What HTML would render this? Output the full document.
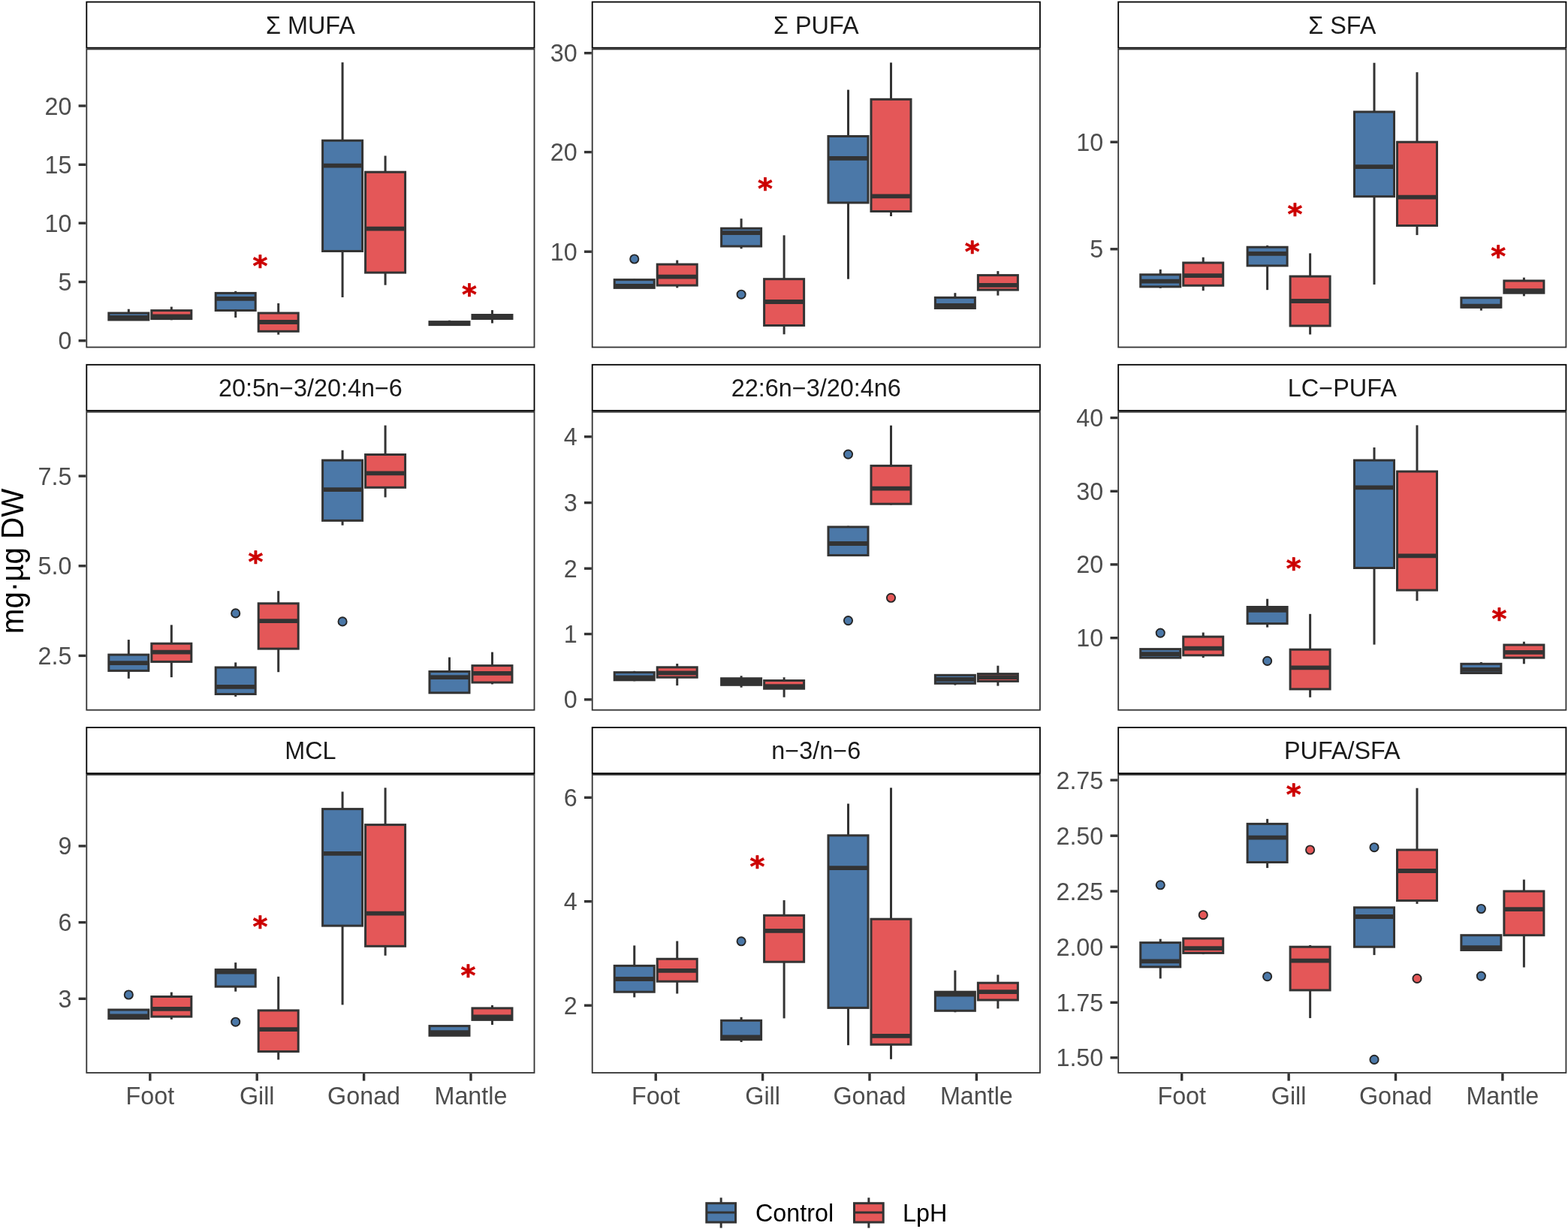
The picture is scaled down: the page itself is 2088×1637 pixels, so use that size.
<!DOCTYPE html>
<html><head><meta charset="utf-8"><title>Fatty acid boxplots</title>
<style>html,body{margin:0;padding:0;background:#fff;}svg{display:block;}
text{font-family:"Liberation Sans",Arial,sans-serif;}
.ax{font-size:32.3px;fill:#4D4D4D;}
.st{font-size:32.4px;fill:#1A1A1A;text-anchor:middle;}
.ast{font-family:"DejaVu Sans",sans-serif;font-weight:bold;font-size:38px;fill:#CC0000;stroke:#CC0000;stroke-width:0.7px;stroke-linejoin:round;text-anchor:middle;}
</style></head><body>
<svg width="2088" height="1637" viewBox="0 0 2088 1637">
<rect x="0" y="0" width="2088" height="1637" fill="#fff"/>
<g>
<rect x="115.3" y="2.6" width="596.2" height="61.1" fill="#fff" stroke="#000" stroke-width="1.8"/>
<text class="st" x="413.4" y="44.75">Σ MUFA</text>
<line x1="171.33" y1="411.7" x2="171.33" y2="417" stroke="#333333" stroke-width="3"/>
<rect x="144.83" y="417" width="53" height="9" fill="#4B78A8" stroke="#333333" stroke-width="3"/>
<line x1="144.83" y1="423" x2="197.83" y2="423" stroke="#333333" stroke-width="5.8"/>
<line x1="228.33" y1="408.6" x2="228.33" y2="413.6" stroke="#333333" stroke-width="3"/>
<line x1="228.33" y1="424.6" x2="228.33" y2="426.3" stroke="#333333" stroke-width="3"/>
<rect x="201.83" y="413.6" width="53" height="11" fill="#E45758" stroke="#333333" stroke-width="3"/>
<line x1="201.83" y1="421.5" x2="254.83" y2="421.5" stroke="#333333" stroke-width="5.8"/>
<line x1="313.71" y1="387.8" x2="313.71" y2="390.4" stroke="#333333" stroke-width="3"/>
<line x1="313.71" y1="413.5" x2="313.71" y2="423" stroke="#333333" stroke-width="3"/>
<rect x="287.21" y="390.4" width="53" height="23.1" fill="#4B78A8" stroke="#333333" stroke-width="3"/>
<line x1="287.21" y1="397.8" x2="340.21" y2="397.8" stroke="#333333" stroke-width="5.8"/>
<line x1="370.71" y1="404" x2="370.71" y2="417" stroke="#333333" stroke-width="3"/>
<line x1="370.71" y1="441.3" x2="370.71" y2="445.7" stroke="#333333" stroke-width="3"/>
<rect x="344.21" y="417" width="53" height="24.3" fill="#E45758" stroke="#333333" stroke-width="3"/>
<line x1="344.21" y1="429" x2="397.21" y2="429" stroke="#333333" stroke-width="5.8"/>
<line x1="456.09" y1="83.1" x2="456.09" y2="187.2" stroke="#333333" stroke-width="3"/>
<line x1="456.09" y1="334.5" x2="456.09" y2="396" stroke="#333333" stroke-width="3"/>
<rect x="429.59" y="187.2" width="53" height="147.3" fill="#4B78A8" stroke="#333333" stroke-width="3"/>
<line x1="429.59" y1="220.6" x2="482.59" y2="220.6" stroke="#333333" stroke-width="5.8"/>
<line x1="513.09" y1="207.5" x2="513.09" y2="229.2" stroke="#333333" stroke-width="3"/>
<line x1="513.09" y1="363.1" x2="513.09" y2="379.7" stroke="#333333" stroke-width="3"/>
<rect x="486.59" y="229.2" width="53" height="133.9" fill="#E45758" stroke="#333333" stroke-width="3"/>
<line x1="486.59" y1="304.7" x2="539.59" y2="304.7" stroke="#333333" stroke-width="5.8"/>
<line x1="598.47" y1="426.7" x2="598.47" y2="428.6" stroke="#333333" stroke-width="3"/>
<rect x="571.97" y="428.6" width="53" height="4" fill="#4B78A8" stroke="#333333" stroke-width="3"/>
<line x1="571.97" y1="431" x2="624.97" y2="431" stroke="#333333" stroke-width="5.8"/>
<line x1="655.47" y1="413.1" x2="655.47" y2="419.5" stroke="#333333" stroke-width="3"/>
<line x1="655.47" y1="424.5" x2="655.47" y2="430.5" stroke="#333333" stroke-width="3"/>
<rect x="628.97" y="419.5" width="53" height="5" fill="#E45758" stroke="#333333" stroke-width="3"/>
<line x1="628.97" y1="422" x2="681.97" y2="422" stroke="#333333" stroke-width="5.8"/>
<text class="ast" x="346.4" y="367.38">*</text>
<text class="ast" x="624.9" y="405.38">*</text>
<rect x="115.3" y="65.5" width="596.2" height="397" fill="none" stroke="#333333" stroke-width="1.8"/>
<line x1="104.6" y1="453.8" x2="114.4" y2="453.8" stroke="#333333" stroke-width="3.4"/>
<text class="ax" x="95.4" y="465.36" text-anchor="end">0</text>
<line x1="104.6" y1="375.5" x2="114.4" y2="375.5" stroke="#333333" stroke-width="3.4"/>
<text class="ax" x="95.4" y="387.06" text-anchor="end">5</text>
<line x1="104.6" y1="297.2" x2="114.4" y2="297.2" stroke="#333333" stroke-width="3.4"/>
<text class="ax" x="95.4" y="308.76" text-anchor="end">10</text>
<line x1="104.6" y1="219.3" x2="114.4" y2="219.3" stroke="#333333" stroke-width="3.4"/>
<text class="ax" x="95.4" y="230.86" text-anchor="end">15</text>
<line x1="104.6" y1="141" x2="114.4" y2="141" stroke="#333333" stroke-width="3.4"/>
<text class="ax" x="95.4" y="152.56" text-anchor="end">20</text>
</g>
<g>
<rect x="788.7" y="2.6" width="596.2" height="61.1" fill="#fff" stroke="#000" stroke-width="1.8"/>
<text class="st" x="1086.8" y="44.75">Σ PUFA</text>
<line x1="844.73" y1="371.7" x2="844.73" y2="372.6" stroke="#333333" stroke-width="3"/>
<rect x="818.23" y="372.6" width="53" height="10.8" fill="#4B78A8" stroke="#333333" stroke-width="3"/>
<line x1="818.23" y1="380.8" x2="871.23" y2="380.8" stroke="#333333" stroke-width="5.8"/>
<line x1="901.73" y1="346.6" x2="901.73" y2="352.1" stroke="#333333" stroke-width="3"/>
<line x1="901.73" y1="380.1" x2="901.73" y2="383.4" stroke="#333333" stroke-width="3"/>
<rect x="875.23" y="352.1" width="53" height="28" fill="#E45758" stroke="#333333" stroke-width="3"/>
<line x1="875.23" y1="368.7" x2="928.23" y2="368.7" stroke="#333333" stroke-width="5.8"/>
<line x1="987.11" y1="291.2" x2="987.11" y2="304.2" stroke="#333333" stroke-width="3"/>
<line x1="987.11" y1="328" x2="987.11" y2="331.3" stroke="#333333" stroke-width="3"/>
<rect x="960.61" y="304.2" width="53" height="23.8" fill="#4B78A8" stroke="#333333" stroke-width="3"/>
<line x1="960.61" y1="310.1" x2="1013.61" y2="310.1" stroke="#333333" stroke-width="5.8"/>
<line x1="1044.11" y1="313.4" x2="1044.11" y2="371.7" stroke="#333333" stroke-width="3"/>
<line x1="1044.11" y1="433.5" x2="1044.11" y2="445.3" stroke="#333333" stroke-width="3"/>
<rect x="1017.61" y="371.7" width="53" height="61.8" fill="#E45758" stroke="#333333" stroke-width="3"/>
<line x1="1017.61" y1="402" x2="1070.61" y2="402" stroke="#333333" stroke-width="5.8"/>
<line x1="1129.49" y1="119.6" x2="1129.49" y2="181.5" stroke="#333333" stroke-width="3"/>
<line x1="1129.49" y1="270" x2="1129.49" y2="371.7" stroke="#333333" stroke-width="3"/>
<rect x="1102.99" y="181.5" width="53" height="88.5" fill="#4B78A8" stroke="#333333" stroke-width="3"/>
<line x1="1102.99" y1="210.8" x2="1155.99" y2="210.8" stroke="#333333" stroke-width="5.8"/>
<line x1="1186.49" y1="83.4" x2="1186.49" y2="132.3" stroke="#333333" stroke-width="3"/>
<line x1="1186.49" y1="281.5" x2="1186.49" y2="288" stroke="#333333" stroke-width="3"/>
<rect x="1159.99" y="132.3" width="53" height="149.2" fill="#E45758" stroke="#333333" stroke-width="3"/>
<line x1="1159.99" y1="261.3" x2="1212.99" y2="261.3" stroke="#333333" stroke-width="5.8"/>
<line x1="1271.87" y1="390.2" x2="1271.87" y2="396.4" stroke="#333333" stroke-width="3"/>
<rect x="1245.37" y="396.4" width="53" height="14.1" fill="#4B78A8" stroke="#333333" stroke-width="3"/>
<line x1="1245.37" y1="406.8" x2="1298.37" y2="406.8" stroke="#333333" stroke-width="5.8"/>
<line x1="1328.87" y1="361.1" x2="1328.87" y2="366.6" stroke="#333333" stroke-width="3"/>
<line x1="1328.87" y1="386.1" x2="1328.87" y2="393.6" stroke="#333333" stroke-width="3"/>
<rect x="1302.37" y="366.6" width="53" height="19.5" fill="#E45758" stroke="#333333" stroke-width="3"/>
<line x1="1302.37" y1="379.9" x2="1355.37" y2="379.9" stroke="#333333" stroke-width="5.8"/>
<circle cx="844.73" cy="345" r="5.6" fill="#4B78A8" stroke="#262626" stroke-width="1.9"/>
<circle cx="987.11" cy="392.2" r="5.6" fill="#4B78A8" stroke="#262626" stroke-width="1.9"/>
<text class="ast" x="1019" y="264.48">*</text>
<text class="ast" x="1294.6" y="347.78">*</text>
<rect x="788.7" y="65.5" width="596.2" height="397" fill="none" stroke="#333333" stroke-width="1.8"/>
<line x1="778" y1="335.2" x2="787.8" y2="335.2" stroke="#333333" stroke-width="3.4"/>
<text class="ax" x="768.8" y="346.76" text-anchor="end">10</text>
<line x1="778" y1="202.6" x2="787.8" y2="202.6" stroke="#333333" stroke-width="3.4"/>
<text class="ax" x="768.8" y="214.16" text-anchor="end">20</text>
<line x1="778" y1="70.7" x2="787.8" y2="70.7" stroke="#333333" stroke-width="3.4"/>
<text class="ax" x="768.8" y="82.26" text-anchor="end">30</text>
</g>
<g>
<rect x="1489.2" y="2.6" width="596.2" height="61.1" fill="#fff" stroke="#000" stroke-width="1.8"/>
<text class="st" x="1787.3" y="44.75">Σ SFA</text>
<line x1="1545.23" y1="358.9" x2="1545.23" y2="365.8" stroke="#333333" stroke-width="3"/>
<line x1="1545.23" y1="381.9" x2="1545.23" y2="383.9" stroke="#333333" stroke-width="3"/>
<rect x="1518.73" y="365.8" width="53" height="16.1" fill="#4B78A8" stroke="#333333" stroke-width="3"/>
<line x1="1518.73" y1="374.7" x2="1571.73" y2="374.7" stroke="#333333" stroke-width="5.8"/>
<line x1="1602.23" y1="342.7" x2="1602.23" y2="350" stroke="#333333" stroke-width="3"/>
<line x1="1602.23" y1="380.3" x2="1602.23" y2="387.2" stroke="#333333" stroke-width="3"/>
<rect x="1575.73" y="350" width="53" height="30.3" fill="#E45758" stroke="#333333" stroke-width="3"/>
<line x1="1575.73" y1="367.1" x2="1628.73" y2="367.1" stroke="#333333" stroke-width="5.8"/>
<line x1="1687.61" y1="326.9" x2="1687.61" y2="329.2" stroke="#333333" stroke-width="3"/>
<line x1="1687.61" y1="353.9" x2="1687.61" y2="386.2" stroke="#333333" stroke-width="3"/>
<rect x="1661.11" y="329.2" width="53" height="24.7" fill="#4B78A8" stroke="#333333" stroke-width="3"/>
<line x1="1661.11" y1="337.8" x2="1714.11" y2="337.8" stroke="#333333" stroke-width="5.8"/>
<line x1="1744.61" y1="337.4" x2="1744.61" y2="368.1" stroke="#333333" stroke-width="3"/>
<line x1="1744.61" y1="434" x2="1744.61" y2="445.5" stroke="#333333" stroke-width="3"/>
<rect x="1718.11" y="368.1" width="53" height="65.9" fill="#E45758" stroke="#333333" stroke-width="3"/>
<line x1="1718.11" y1="401" x2="1771.11" y2="401" stroke="#333333" stroke-width="5.8"/>
<line x1="1829.99" y1="83.7" x2="1829.99" y2="149" stroke="#333333" stroke-width="3"/>
<line x1="1829.99" y1="261.7" x2="1829.99" y2="379" stroke="#333333" stroke-width="3"/>
<rect x="1803.49" y="149" width="53" height="112.7" fill="#4B78A8" stroke="#333333" stroke-width="3"/>
<line x1="1803.49" y1="222.1" x2="1856.49" y2="222.1" stroke="#333333" stroke-width="5.8"/>
<line x1="1886.99" y1="96.2" x2="1886.99" y2="189.2" stroke="#333333" stroke-width="3"/>
<line x1="1886.99" y1="300.5" x2="1886.99" y2="313.1" stroke="#333333" stroke-width="3"/>
<rect x="1860.49" y="189.2" width="53" height="111.3" fill="#E45758" stroke="#333333" stroke-width="3"/>
<line x1="1860.49" y1="262.6" x2="1913.49" y2="262.6" stroke="#333333" stroke-width="5.8"/>
<line x1="1972.37" y1="409.3" x2="1972.37" y2="413.6" stroke="#333333" stroke-width="3"/>
<rect x="1945.87" y="396.7" width="53" height="12.6" fill="#4B78A8" stroke="#333333" stroke-width="3"/>
<line x1="1945.87" y1="407.6" x2="1998.87" y2="407.6" stroke="#333333" stroke-width="5.8"/>
<line x1="2029.37" y1="369.7" x2="2029.37" y2="374" stroke="#333333" stroke-width="3"/>
<line x1="2029.37" y1="390.2" x2="2029.37" y2="394.4" stroke="#333333" stroke-width="3"/>
<rect x="2002.87" y="374" width="53" height="16.2" fill="#E45758" stroke="#333333" stroke-width="3"/>
<line x1="2002.87" y1="387.2" x2="2055.87" y2="387.2" stroke="#333333" stroke-width="5.8"/>
<text class="ast" x="1724.5" y="298.38">*</text>
<text class="ast" x="1995.1" y="354.08">*</text>
<rect x="1489.2" y="65.5" width="596.2" height="397" fill="none" stroke="#333333" stroke-width="1.8"/>
<line x1="1478.5" y1="331.8" x2="1488.3" y2="331.8" stroke="#333333" stroke-width="3.4"/>
<text class="ax" x="1469.3" y="343.36" text-anchor="end">5</text>
<line x1="1478.5" y1="189.2" x2="1488.3" y2="189.2" stroke="#333333" stroke-width="3.4"/>
<text class="ax" x="1469.3" y="200.76" text-anchor="end">10</text>
</g>
<g>
<rect x="115.3" y="485.8" width="596.2" height="61.1" fill="#fff" stroke="#000" stroke-width="1.8"/>
<text class="st" x="413.4" y="527.95">20:5n−3/20:4n−6</text>
<line x1="171.33" y1="852.1" x2="171.33" y2="872.1" stroke="#333333" stroke-width="3"/>
<line x1="171.33" y1="893.4" x2="171.33" y2="903.8" stroke="#333333" stroke-width="3"/>
<rect x="144.83" y="872.1" width="53" height="21.3" fill="#4B78A8" stroke="#333333" stroke-width="3"/>
<line x1="144.83" y1="883.1" x2="197.83" y2="883.1" stroke="#333333" stroke-width="5.8"/>
<line x1="228.33" y1="832.4" x2="228.33" y2="857.2" stroke="#333333" stroke-width="3"/>
<line x1="228.33" y1="881.4" x2="228.33" y2="902.1" stroke="#333333" stroke-width="3"/>
<rect x="201.83" y="857.2" width="53" height="24.2" fill="#E45758" stroke="#333333" stroke-width="3"/>
<line x1="201.83" y1="868.6" x2="254.83" y2="868.6" stroke="#333333" stroke-width="5.8"/>
<line x1="313.71" y1="882.4" x2="313.71" y2="889" stroke="#333333" stroke-width="3"/>
<line x1="313.71" y1="924.5" x2="313.71" y2="927.9" stroke="#333333" stroke-width="3"/>
<rect x="287.21" y="889" width="53" height="35.5" fill="#4B78A8" stroke="#333333" stroke-width="3"/>
<line x1="287.21" y1="914.8" x2="340.21" y2="914.8" stroke="#333333" stroke-width="5.8"/>
<line x1="370.71" y1="787.2" x2="370.71" y2="803.8" stroke="#333333" stroke-width="3"/>
<line x1="370.71" y1="864.1" x2="370.71" y2="895.2" stroke="#333333" stroke-width="3"/>
<rect x="344.21" y="803.8" width="53" height="60.3" fill="#E45758" stroke="#333333" stroke-width="3"/>
<line x1="344.21" y1="827.2" x2="397.21" y2="827.2" stroke="#333333" stroke-width="5.8"/>
<line x1="456.09" y1="599.7" x2="456.09" y2="613.1" stroke="#333333" stroke-width="3"/>
<line x1="456.09" y1="693.4" x2="456.09" y2="699.7" stroke="#333333" stroke-width="3"/>
<rect x="429.59" y="613.1" width="53" height="80.3" fill="#4B78A8" stroke="#333333" stroke-width="3"/>
<line x1="429.59" y1="652.1" x2="482.59" y2="652.1" stroke="#333333" stroke-width="5.8"/>
<line x1="513.09" y1="566.6" x2="513.09" y2="605.5" stroke="#333333" stroke-width="3"/>
<line x1="513.09" y1="649.3" x2="513.09" y2="662.4" stroke="#333333" stroke-width="3"/>
<rect x="486.59" y="605.5" width="53" height="43.8" fill="#E45758" stroke="#333333" stroke-width="3"/>
<line x1="486.59" y1="630.3" x2="539.59" y2="630.3" stroke="#333333" stroke-width="5.8"/>
<line x1="598.47" y1="875.5" x2="598.47" y2="894.5" stroke="#333333" stroke-width="3"/>
<rect x="571.97" y="894.5" width="53" height="28.3" fill="#4B78A8" stroke="#333333" stroke-width="3"/>
<line x1="571.97" y1="902.1" x2="624.97" y2="902.1" stroke="#333333" stroke-width="5.8"/>
<line x1="655.47" y1="868.6" x2="655.47" y2="886.6" stroke="#333333" stroke-width="3"/>
<line x1="655.47" y1="909" x2="655.47" y2="911.4" stroke="#333333" stroke-width="3"/>
<rect x="628.97" y="886.6" width="53" height="22.4" fill="#E45758" stroke="#333333" stroke-width="3"/>
<line x1="628.97" y1="896.9" x2="681.97" y2="896.9" stroke="#333333" stroke-width="5.8"/>
<circle cx="313.71" cy="816.9" r="5.6" fill="#4B78A8" stroke="#262626" stroke-width="1.9"/>
<circle cx="456.09" cy="827.9" r="5.6" fill="#4B78A8" stroke="#262626" stroke-width="1.9"/>
<text class="ast" x="340.4" y="760.78">*</text>
<rect x="115.3" y="548.7" width="596.2" height="397" fill="none" stroke="#333333" stroke-width="1.8"/>
<line x1="104.6" y1="873.4" x2="114.4" y2="873.4" stroke="#333333" stroke-width="3.4"/>
<text class="ax" x="95.4" y="884.96" text-anchor="end">2.5</text>
<line x1="104.6" y1="753.8" x2="114.4" y2="753.8" stroke="#333333" stroke-width="3.4"/>
<text class="ax" x="95.4" y="765.36" text-anchor="end">5.0</text>
<line x1="104.6" y1="634.1" x2="114.4" y2="634.1" stroke="#333333" stroke-width="3.4"/>
<text class="ax" x="95.4" y="645.66" text-anchor="end">7.5</text>
</g>
<g>
<rect x="788.7" y="485.8" width="596.2" height="61.1" fill="#fff" stroke="#000" stroke-width="1.8"/>
<text class="st" x="1086.8" y="527.95">22:6n−3/20:4n6</text>
<line x1="844.73" y1="893.8" x2="844.73" y2="895.6" stroke="#333333" stroke-width="3"/>
<line x1="844.73" y1="905.8" x2="844.73" y2="907.3" stroke="#333333" stroke-width="3"/>
<rect x="818.23" y="895.6" width="53" height="10.2" fill="#4B78A8" stroke="#333333" stroke-width="3"/>
<line x1="818.23" y1="902.3" x2="871.23" y2="902.3" stroke="#333333" stroke-width="5.8"/>
<line x1="901.73" y1="884" x2="901.73" y2="888.8" stroke="#333333" stroke-width="3"/>
<line x1="901.73" y1="902.2" x2="901.73" y2="913.1" stroke="#333333" stroke-width="3"/>
<rect x="875.23" y="888.8" width="53" height="13.4" fill="#E45758" stroke="#333333" stroke-width="3"/>
<line x1="875.23" y1="896.4" x2="928.23" y2="896.4" stroke="#333333" stroke-width="5.8"/>
<line x1="987.11" y1="900.2" x2="987.11" y2="903.7" stroke="#333333" stroke-width="3"/>
<line x1="987.11" y1="912.3" x2="987.11" y2="915.7" stroke="#333333" stroke-width="3"/>
<rect x="960.61" y="903.7" width="53" height="8.6" fill="#4B78A8" stroke="#333333" stroke-width="3"/>
<line x1="960.61" y1="908" x2="1013.61" y2="908" stroke="#333333" stroke-width="5.8"/>
<line x1="1044.11" y1="902.2" x2="1044.11" y2="906.5" stroke="#333333" stroke-width="3"/>
<line x1="1044.11" y1="917.2" x2="1044.11" y2="928.7" stroke="#333333" stroke-width="3"/>
<rect x="1017.61" y="906.5" width="53" height="10.7" fill="#E45758" stroke="#333333" stroke-width="3"/>
<line x1="1017.61" y1="914.2" x2="1070.61" y2="914.2" stroke="#333333" stroke-width="5.8"/>
<line x1="1129.49" y1="700.6" x2="1129.49" y2="701.9" stroke="#333333" stroke-width="3"/>
<rect x="1102.99" y="701.9" width="53" height="37.7" fill="#4B78A8" stroke="#333333" stroke-width="3"/>
<line x1="1102.99" y1="724" x2="1155.99" y2="724" stroke="#333333" stroke-width="5.8"/>
<line x1="1186.49" y1="566.7" x2="1186.49" y2="620.4" stroke="#333333" stroke-width="3"/>
<line x1="1186.49" y1="671.2" x2="1186.49" y2="672.5" stroke="#333333" stroke-width="3"/>
<rect x="1159.99" y="620.4" width="53" height="50.8" fill="#E45758" stroke="#333333" stroke-width="3"/>
<line x1="1159.99" y1="650.7" x2="1212.99" y2="650.7" stroke="#333333" stroke-width="5.8"/>
<line x1="1271.87" y1="910.3" x2="1271.87" y2="912.6" stroke="#333333" stroke-width="3"/>
<rect x="1245.37" y="899.3" width="53" height="11" fill="#4B78A8" stroke="#333333" stroke-width="3"/>
<line x1="1245.37" y1="904.9" x2="1298.37" y2="904.9" stroke="#333333" stroke-width="5.8"/>
<line x1="1328.87" y1="886.7" x2="1328.87" y2="897.6" stroke="#333333" stroke-width="3"/>
<line x1="1328.87" y1="907.4" x2="1328.87" y2="913.6" stroke="#333333" stroke-width="3"/>
<rect x="1302.37" y="897.6" width="53" height="9.8" fill="#E45758" stroke="#333333" stroke-width="3"/>
<line x1="1302.37" y1="902.2" x2="1355.37" y2="902.2" stroke="#333333" stroke-width="5.8"/>
<circle cx="1129.49" cy="605.1" r="5.6" fill="#4B78A8" stroke="#262626" stroke-width="1.9"/>
<circle cx="1129.49" cy="826.6" r="5.6" fill="#4B78A8" stroke="#262626" stroke-width="1.9"/>
<circle cx="1186.49" cy="796.3" r="5.6" fill="#E45758" stroke="#262626" stroke-width="1.9"/>
<rect x="788.7" y="548.7" width="596.2" height="397" fill="none" stroke="#333333" stroke-width="1.8"/>
<line x1="778" y1="931.8" x2="787.8" y2="931.8" stroke="#333333" stroke-width="3.4"/>
<text class="ax" x="768.8" y="943.36" text-anchor="end">0</text>
<line x1="778" y1="844.5" x2="787.8" y2="844.5" stroke="#333333" stroke-width="3.4"/>
<text class="ax" x="768.8" y="856.06" text-anchor="end">1</text>
<line x1="778" y1="757.2" x2="787.8" y2="757.2" stroke="#333333" stroke-width="3.4"/>
<text class="ax" x="768.8" y="768.76" text-anchor="end">2</text>
<line x1="778" y1="669.6" x2="787.8" y2="669.6" stroke="#333333" stroke-width="3.4"/>
<text class="ax" x="768.8" y="681.16" text-anchor="end">3</text>
<line x1="778" y1="581.7" x2="787.8" y2="581.7" stroke="#333333" stroke-width="3.4"/>
<text class="ax" x="768.8" y="593.26" text-anchor="end">4</text>
</g>
<g>
<rect x="1489.2" y="485.8" width="596.2" height="61.1" fill="#fff" stroke="#000" stroke-width="1.8"/>
<text class="st" x="1787.3" y="527.95">LC−PUFA</text>
<rect x="1518.73" y="864.6" width="53" height="11.5" fill="#4B78A8" stroke="#333333" stroke-width="3"/>
<line x1="1518.73" y1="871.1" x2="1571.73" y2="871.1" stroke="#333333" stroke-width="5.8"/>
<line x1="1602.23" y1="842.5" x2="1602.23" y2="848.1" stroke="#333333" stroke-width="3"/>
<line x1="1602.23" y1="872.8" x2="1602.23" y2="876.1" stroke="#333333" stroke-width="3"/>
<rect x="1575.73" y="848.1" width="53" height="24.7" fill="#E45758" stroke="#333333" stroke-width="3"/>
<line x1="1575.73" y1="863.6" x2="1628.73" y2="863.6" stroke="#333333" stroke-width="5.8"/>
<line x1="1687.61" y1="797.7" x2="1687.61" y2="808.5" stroke="#333333" stroke-width="3"/>
<line x1="1687.61" y1="830.6" x2="1687.61" y2="835.6" stroke="#333333" stroke-width="3"/>
<rect x="1661.11" y="808.5" width="53" height="22.1" fill="#4B78A8" stroke="#333333" stroke-width="3"/>
<line x1="1661.11" y1="812.8" x2="1714.11" y2="812.8" stroke="#333333" stroke-width="5.8"/>
<line x1="1744.61" y1="817.8" x2="1744.61" y2="865.2" stroke="#333333" stroke-width="3"/>
<line x1="1744.61" y1="917.9" x2="1744.61" y2="928.8" stroke="#333333" stroke-width="3"/>
<rect x="1718.11" y="865.2" width="53" height="52.7" fill="#E45758" stroke="#333333" stroke-width="3"/>
<line x1="1718.11" y1="889.3" x2="1771.11" y2="889.3" stroke="#333333" stroke-width="5.8"/>
<line x1="1829.99" y1="596" x2="1829.99" y2="613.1" stroke="#333333" stroke-width="3"/>
<line x1="1829.99" y1="756.5" x2="1829.99" y2="858.6" stroke="#333333" stroke-width="3"/>
<rect x="1803.49" y="613.1" width="53" height="143.4" fill="#4B78A8" stroke="#333333" stroke-width="3"/>
<line x1="1803.49" y1="649.4" x2="1856.49" y2="649.4" stroke="#333333" stroke-width="5.8"/>
<line x1="1886.99" y1="566.4" x2="1886.99" y2="628" stroke="#333333" stroke-width="3"/>
<line x1="1886.99" y1="786.1" x2="1886.99" y2="800.3" stroke="#333333" stroke-width="3"/>
<rect x="1860.49" y="628" width="53" height="158.1" fill="#E45758" stroke="#333333" stroke-width="3"/>
<line x1="1860.49" y1="740.3" x2="1913.49" y2="740.3" stroke="#333333" stroke-width="5.8"/>
<line x1="1972.37" y1="882" x2="1972.37" y2="884.3" stroke="#333333" stroke-width="3"/>
<rect x="1945.87" y="884.3" width="53" height="12.2" fill="#4B78A8" stroke="#333333" stroke-width="3"/>
<line x1="1945.87" y1="891.9" x2="1998.87" y2="891.9" stroke="#333333" stroke-width="5.8"/>
<line x1="2029.37" y1="854.7" x2="2029.37" y2="859" stroke="#333333" stroke-width="3"/>
<line x1="2029.37" y1="876.1" x2="2029.37" y2="884.3" stroke="#333333" stroke-width="3"/>
<rect x="2002.87" y="859" width="53" height="17.1" fill="#E45758" stroke="#333333" stroke-width="3"/>
<line x1="2002.87" y1="868.8" x2="2055.87" y2="868.8" stroke="#333333" stroke-width="5.8"/>
<circle cx="1545.23" cy="843.1" r="5.6" fill="#4B78A8" stroke="#262626" stroke-width="1.9"/>
<circle cx="1687.61" cy="880.4" r="5.6" fill="#4B78A8" stroke="#262626" stroke-width="1.9"/>
<text class="ast" x="1722.8" y="770.28">*</text>
<text class="ast" x="1996.5" y="836.58">*</text>
<rect x="1489.2" y="548.7" width="596.2" height="397" fill="none" stroke="#333333" stroke-width="1.8"/>
<line x1="1478.5" y1="849.7" x2="1488.3" y2="849.7" stroke="#333333" stroke-width="3.4"/>
<text class="ax" x="1469.3" y="861.26" text-anchor="end">10</text>
<line x1="1478.5" y1="751.9" x2="1488.3" y2="751.9" stroke="#333333" stroke-width="3.4"/>
<text class="ax" x="1469.3" y="763.46" text-anchor="end">20</text>
<line x1="1478.5" y1="654.3" x2="1488.3" y2="654.3" stroke="#333333" stroke-width="3.4"/>
<text class="ax" x="1469.3" y="665.86" text-anchor="end">30</text>
<line x1="1478.5" y1="556.5" x2="1488.3" y2="556.5" stroke="#333333" stroke-width="3.4"/>
<text class="ax" x="1469.3" y="568.06" text-anchor="end">40</text>
</g>
<g>
<rect x="115.3" y="969" width="596.2" height="61.1" fill="#fff" stroke="#000" stroke-width="1.8"/>
<text class="st" x="413.4" y="1011.15">MCL</text>
<rect x="144.83" y="1345" width="53" height="11.7" fill="#4B78A8" stroke="#333333" stroke-width="3"/>
<line x1="144.83" y1="1353.3" x2="197.83" y2="1353.3" stroke="#333333" stroke-width="5.8"/>
<line x1="228.33" y1="1321.6" x2="228.33" y2="1327.5" stroke="#333333" stroke-width="3"/>
<line x1="228.33" y1="1354.1" x2="228.33" y2="1357.8" stroke="#333333" stroke-width="3"/>
<rect x="201.83" y="1327.5" width="53" height="26.6" fill="#E45758" stroke="#333333" stroke-width="3"/>
<line x1="201.83" y1="1343.8" x2="254.83" y2="1343.8" stroke="#333333" stroke-width="5.8"/>
<line x1="313.71" y1="1282.1" x2="313.71" y2="1291.6" stroke="#333333" stroke-width="3"/>
<line x1="313.71" y1="1314.1" x2="313.71" y2="1320.7" stroke="#333333" stroke-width="3"/>
<rect x="287.21" y="1291.6" width="53" height="22.5" fill="#4B78A8" stroke="#333333" stroke-width="3"/>
<line x1="287.21" y1="1294.6" x2="340.21" y2="1294.6" stroke="#333333" stroke-width="5.8"/>
<line x1="370.71" y1="1300.8" x2="370.71" y2="1345.9" stroke="#333333" stroke-width="3"/>
<line x1="370.71" y1="1400.6" x2="370.71" y2="1411.5" stroke="#333333" stroke-width="3"/>
<rect x="344.21" y="1345.9" width="53" height="54.7" fill="#E45758" stroke="#333333" stroke-width="3"/>
<line x1="344.21" y1="1371.2" x2="397.21" y2="1371.2" stroke="#333333" stroke-width="5.8"/>
<line x1="456.09" y1="1054.5" x2="456.09" y2="1077.6" stroke="#333333" stroke-width="3"/>
<line x1="456.09" y1="1233.1" x2="456.09" y2="1338.4" stroke="#333333" stroke-width="3"/>
<rect x="429.59" y="1077.6" width="53" height="155.5" fill="#4B78A8" stroke="#333333" stroke-width="3"/>
<line x1="429.59" y1="1136.8" x2="482.59" y2="1136.8" stroke="#333333" stroke-width="5.8"/>
<line x1="513.09" y1="1049.3" x2="513.09" y2="1098.6" stroke="#333333" stroke-width="3"/>
<line x1="513.09" y1="1260.3" x2="513.09" y2="1272.8" stroke="#333333" stroke-width="3"/>
<rect x="486.59" y="1098.6" width="53" height="161.7" fill="#E45758" stroke="#333333" stroke-width="3"/>
<line x1="486.59" y1="1216.6" x2="539.59" y2="1216.6" stroke="#333333" stroke-width="5.8"/>
<line x1="598.47" y1="1365.9" x2="598.47" y2="1366.6" stroke="#333333" stroke-width="3"/>
<rect x="571.97" y="1366.6" width="53" height="12.7" fill="#4B78A8" stroke="#333333" stroke-width="3"/>
<line x1="571.97" y1="1375.2" x2="624.97" y2="1375.2" stroke="#333333" stroke-width="5.8"/>
<line x1="655.47" y1="1339" x2="655.47" y2="1342.9" stroke="#333333" stroke-width="3"/>
<line x1="655.47" y1="1358.4" x2="655.47" y2="1365" stroke="#333333" stroke-width="3"/>
<rect x="628.97" y="1342.9" width="53" height="15.5" fill="#E45758" stroke="#333333" stroke-width="3"/>
<line x1="628.97" y1="1354.5" x2="681.97" y2="1354.5" stroke="#333333" stroke-width="5.8"/>
<circle cx="171.33" cy="1325" r="5.6" fill="#4B78A8" stroke="#262626" stroke-width="1.9"/>
<circle cx="313.71" cy="1361.2" r="5.6" fill="#4B78A8" stroke="#262626" stroke-width="1.9"/>
<text class="ast" x="346.5" y="1247.48">*</text>
<text class="ast" x="623.5" y="1311.58">*</text>
<rect x="115.3" y="1031.9" width="596.2" height="397" fill="none" stroke="#333333" stroke-width="1.8"/>
<line x1="104.6" y1="1330.3" x2="114.4" y2="1330.3" stroke="#333333" stroke-width="3.4"/>
<text class="ax" x="95.4" y="1341.86" text-anchor="end">3</text>
<line x1="104.6" y1="1228.6" x2="114.4" y2="1228.6" stroke="#333333" stroke-width="3.4"/>
<text class="ax" x="95.4" y="1240.16" text-anchor="end">6</text>
<line x1="104.6" y1="1126.9" x2="114.4" y2="1126.9" stroke="#333333" stroke-width="3.4"/>
<text class="ax" x="95.4" y="1138.46" text-anchor="end">9</text>
<line x1="199.83" y1="1429.8" x2="199.83" y2="1439.6" stroke="#333333" stroke-width="3.4"/>
<text class="ax" x="199.83" y="1471" text-anchor="middle">Foot</text>
<line x1="342.21" y1="1429.8" x2="342.21" y2="1439.6" stroke="#333333" stroke-width="3.4"/>
<text class="ax" x="342.21" y="1471" text-anchor="middle">Gill</text>
<line x1="484.59" y1="1429.8" x2="484.59" y2="1439.6" stroke="#333333" stroke-width="3.4"/>
<text class="ax" x="484.59" y="1471" text-anchor="middle">Gonad</text>
<line x1="626.97" y1="1429.8" x2="626.97" y2="1439.6" stroke="#333333" stroke-width="3.4"/>
<text class="ax" x="626.97" y="1471" text-anchor="middle">Mantle</text>
</g>
<g>
<rect x="788.7" y="969" width="596.2" height="61.1" fill="#fff" stroke="#000" stroke-width="1.8"/>
<text class="st" x="1086.8" y="1011.15">n−3/n−6</text>
<line x1="844.73" y1="1259.4" x2="844.73" y2="1286.4" stroke="#333333" stroke-width="3"/>
<line x1="844.73" y1="1321.2" x2="844.73" y2="1328.4" stroke="#333333" stroke-width="3"/>
<rect x="818.23" y="1286.4" width="53" height="34.8" fill="#4B78A8" stroke="#333333" stroke-width="3"/>
<line x1="818.23" y1="1304" x2="871.23" y2="1304" stroke="#333333" stroke-width="5.8"/>
<line x1="901.73" y1="1253.5" x2="901.73" y2="1277.3" stroke="#333333" stroke-width="3"/>
<line x1="901.73" y1="1307.2" x2="901.73" y2="1323.5" stroke="#333333" stroke-width="3"/>
<rect x="875.23" y="1277.3" width="53" height="29.9" fill="#E45758" stroke="#333333" stroke-width="3"/>
<line x1="875.23" y1="1292.9" x2="928.23" y2="1292.9" stroke="#333333" stroke-width="5.8"/>
<line x1="987.11" y1="1354.8" x2="987.11" y2="1359.3" stroke="#333333" stroke-width="3"/>
<line x1="987.11" y1="1384.7" x2="987.11" y2="1388" stroke="#333333" stroke-width="3"/>
<rect x="960.61" y="1359.3" width="53" height="25.4" fill="#4B78A8" stroke="#333333" stroke-width="3"/>
<line x1="960.61" y1="1381.5" x2="1013.61" y2="1381.5" stroke="#333333" stroke-width="5.8"/>
<line x1="1044.11" y1="1199.1" x2="1044.11" y2="1219.3" stroke="#333333" stroke-width="3"/>
<line x1="1044.11" y1="1281.2" x2="1044.11" y2="1356.4" stroke="#333333" stroke-width="3"/>
<rect x="1017.61" y="1219.3" width="53" height="61.9" fill="#E45758" stroke="#333333" stroke-width="3"/>
<line x1="1017.61" y1="1239.8" x2="1070.61" y2="1239.8" stroke="#333333" stroke-width="5.8"/>
<line x1="1129.49" y1="1070.5" x2="1129.49" y2="1112.8" stroke="#333333" stroke-width="3"/>
<line x1="1129.49" y1="1342.4" x2="1129.49" y2="1392.2" stroke="#333333" stroke-width="3"/>
<rect x="1102.99" y="1112.8" width="53" height="229.6" fill="#4B78A8" stroke="#333333" stroke-width="3"/>
<line x1="1102.99" y1="1156.1" x2="1155.99" y2="1156.1" stroke="#333333" stroke-width="5.8"/>
<line x1="1186.49" y1="1049.3" x2="1186.49" y2="1224.2" stroke="#333333" stroke-width="3"/>
<line x1="1186.49" y1="1391.3" x2="1186.49" y2="1410.8" stroke="#333333" stroke-width="3"/>
<rect x="1159.99" y="1224.2" width="53" height="167.1" fill="#E45758" stroke="#333333" stroke-width="3"/>
<line x1="1159.99" y1="1379.9" x2="1212.99" y2="1379.9" stroke="#333333" stroke-width="5.8"/>
<line x1="1271.87" y1="1292.6" x2="1271.87" y2="1321.2" stroke="#333333" stroke-width="3"/>
<line x1="1271.87" y1="1346.3" x2="1271.87" y2="1348.3" stroke="#333333" stroke-width="3"/>
<rect x="1245.37" y="1321.2" width="53" height="25.1" fill="#4B78A8" stroke="#333333" stroke-width="3"/>
<line x1="1245.37" y1="1324.5" x2="1298.37" y2="1324.5" stroke="#333333" stroke-width="5.8"/>
<line x1="1328.87" y1="1298.4" x2="1328.87" y2="1309.2" stroke="#333333" stroke-width="3"/>
<line x1="1328.87" y1="1332" x2="1328.87" y2="1343.4" stroke="#333333" stroke-width="3"/>
<rect x="1302.37" y="1309.2" width="53" height="22.8" fill="#E45758" stroke="#333333" stroke-width="3"/>
<line x1="1302.37" y1="1321.2" x2="1355.37" y2="1321.2" stroke="#333333" stroke-width="5.8"/>
<circle cx="987.11" cy="1253.8" r="5.6" fill="#4B78A8" stroke="#262626" stroke-width="1.9"/>
<text class="ast" x="1008.4" y="1166.68">*</text>
<rect x="788.7" y="1031.9" width="596.2" height="397" fill="none" stroke="#333333" stroke-width="1.8"/>
<line x1="778" y1="1339.2" x2="787.8" y2="1339.2" stroke="#333333" stroke-width="3.4"/>
<text class="ax" x="768.8" y="1350.76" text-anchor="end">2</text>
<line x1="778" y1="1200.7" x2="787.8" y2="1200.7" stroke="#333333" stroke-width="3.4"/>
<text class="ax" x="768.8" y="1212.26" text-anchor="end">4</text>
<line x1="778" y1="1062.3" x2="787.8" y2="1062.3" stroke="#333333" stroke-width="3.4"/>
<text class="ax" x="768.8" y="1073.86" text-anchor="end">6</text>
<line x1="873.23" y1="1429.8" x2="873.23" y2="1439.6" stroke="#333333" stroke-width="3.4"/>
<text class="ax" x="873.23" y="1471" text-anchor="middle">Foot</text>
<line x1="1015.61" y1="1429.8" x2="1015.61" y2="1439.6" stroke="#333333" stroke-width="3.4"/>
<text class="ax" x="1015.61" y="1471" text-anchor="middle">Gill</text>
<line x1="1157.99" y1="1429.8" x2="1157.99" y2="1439.6" stroke="#333333" stroke-width="3.4"/>
<text class="ax" x="1157.99" y="1471" text-anchor="middle">Gonad</text>
<line x1="1300.37" y1="1429.8" x2="1300.37" y2="1439.6" stroke="#333333" stroke-width="3.4"/>
<text class="ax" x="1300.37" y="1471" text-anchor="middle">Mantle</text>
</g>
<g>
<rect x="1489.2" y="969" width="596.2" height="61.1" fill="#fff" stroke="#000" stroke-width="1.8"/>
<text class="st" x="1787.3" y="1011.15">PUFA/SFA</text>
<line x1="1545.23" y1="1250.7" x2="1545.23" y2="1255.6" stroke="#333333" stroke-width="3"/>
<line x1="1545.23" y1="1287.9" x2="1545.23" y2="1303.4" stroke="#333333" stroke-width="3"/>
<rect x="1518.73" y="1255.6" width="53" height="32.3" fill="#4B78A8" stroke="#333333" stroke-width="3"/>
<line x1="1518.73" y1="1280.3" x2="1571.73" y2="1280.3" stroke="#333333" stroke-width="5.8"/>
<line x1="1602.23" y1="1249" x2="1602.23" y2="1250" stroke="#333333" stroke-width="3"/>
<line x1="1602.23" y1="1269.4" x2="1602.23" y2="1271.1" stroke="#333333" stroke-width="3"/>
<rect x="1575.73" y="1250" width="53" height="19.4" fill="#E45758" stroke="#333333" stroke-width="3"/>
<line x1="1575.73" y1="1263.2" x2="1628.73" y2="1263.2" stroke="#333333" stroke-width="5.8"/>
<line x1="1687.61" y1="1090.8" x2="1687.61" y2="1097.4" stroke="#333333" stroke-width="3"/>
<line x1="1687.61" y1="1148.5" x2="1687.61" y2="1156.1" stroke="#333333" stroke-width="3"/>
<rect x="1661.11" y="1097.4" width="53" height="51.1" fill="#4B78A8" stroke="#333333" stroke-width="3"/>
<line x1="1661.11" y1="1115.6" x2="1714.11" y2="1115.6" stroke="#333333" stroke-width="5.8"/>
<line x1="1744.61" y1="1258.9" x2="1744.61" y2="1261.2" stroke="#333333" stroke-width="3"/>
<line x1="1744.61" y1="1318.9" x2="1744.61" y2="1356.1" stroke="#333333" stroke-width="3"/>
<rect x="1718.11" y="1261.2" width="53" height="57.7" fill="#E45758" stroke="#333333" stroke-width="3"/>
<line x1="1718.11" y1="1279.6" x2="1771.11" y2="1279.6" stroke="#333333" stroke-width="5.8"/>
<line x1="1829.99" y1="1208.5" x2="1829.99" y2="1208.8" stroke="#333333" stroke-width="3"/>
<line x1="1829.99" y1="1261.2" x2="1829.99" y2="1272.1" stroke="#333333" stroke-width="3"/>
<rect x="1803.49" y="1208.8" width="53" height="52.4" fill="#4B78A8" stroke="#333333" stroke-width="3"/>
<line x1="1803.49" y1="1221" x2="1856.49" y2="1221" stroke="#333333" stroke-width="5.8"/>
<line x1="1886.99" y1="1049.7" x2="1886.99" y2="1132" stroke="#333333" stroke-width="3"/>
<line x1="1886.99" y1="1199.6" x2="1886.99" y2="1203.9" stroke="#333333" stroke-width="3"/>
<rect x="1860.49" y="1132" width="53" height="67.6" fill="#E45758" stroke="#333333" stroke-width="3"/>
<line x1="1860.49" y1="1160" x2="1913.49" y2="1160" stroke="#333333" stroke-width="5.8"/>
<rect x="1945.87" y="1245.7" width="53" height="19.8" fill="#4B78A8" stroke="#333333" stroke-width="3"/>
<line x1="1945.87" y1="1262.2" x2="1998.87" y2="1262.2" stroke="#333333" stroke-width="5.8"/>
<line x1="2029.37" y1="1171.6" x2="2029.37" y2="1187.1" stroke="#333333" stroke-width="3"/>
<line x1="2029.37" y1="1245.7" x2="2029.37" y2="1288.5" stroke="#333333" stroke-width="3"/>
<rect x="2002.87" y="1187.1" width="53" height="58.6" fill="#E45758" stroke="#333333" stroke-width="3"/>
<line x1="2002.87" y1="1211.1" x2="2055.87" y2="1211.1" stroke="#333333" stroke-width="5.8"/>
<circle cx="1545.23" cy="1178.8" r="5.6" fill="#4B78A8" stroke="#262626" stroke-width="1.9"/>
<circle cx="1602.23" cy="1218.7" r="5.6" fill="#E45758" stroke="#262626" stroke-width="1.9"/>
<circle cx="1744.61" cy="1132" r="5.6" fill="#E45758" stroke="#262626" stroke-width="1.9"/>
<circle cx="1687.61" cy="1300.7" r="5.6" fill="#4B78A8" stroke="#262626" stroke-width="1.9"/>
<circle cx="1829.99" cy="1128.7" r="5.6" fill="#4B78A8" stroke="#262626" stroke-width="1.9"/>
<circle cx="1829.99" cy="1411.4" r="5.6" fill="#4B78A8" stroke="#262626" stroke-width="1.9"/>
<circle cx="1886.99" cy="1303.4" r="5.6" fill="#E45758" stroke="#262626" stroke-width="1.9"/>
<circle cx="1972.37" cy="1210.5" r="5.6" fill="#4B78A8" stroke="#262626" stroke-width="1.9"/>
<circle cx="1972.37" cy="1300.1" r="5.6" fill="#4B78A8" stroke="#262626" stroke-width="1.9"/>
<text class="ast" x="1722.8" y="1070.88">*</text>
<rect x="1489.2" y="1031.9" width="596.2" height="397" fill="none" stroke="#333333" stroke-width="1.8"/>
<line x1="1478.5" y1="1408.8" x2="1488.3" y2="1408.8" stroke="#333333" stroke-width="3.4"/>
<text class="ax" x="1469.3" y="1420.36" text-anchor="end">1.50</text>
<line x1="1478.5" y1="1335.3" x2="1488.3" y2="1335.3" stroke="#333333" stroke-width="3.4"/>
<text class="ax" x="1469.3" y="1346.86" text-anchor="end">1.75</text>
<line x1="1478.5" y1="1261.2" x2="1488.3" y2="1261.2" stroke="#333333" stroke-width="3.4"/>
<text class="ax" x="1469.3" y="1272.76" text-anchor="end">2.00</text>
<line x1="1478.5" y1="1187.1" x2="1488.3" y2="1187.1" stroke="#333333" stroke-width="3.4"/>
<text class="ax" x="1469.3" y="1198.66" text-anchor="end">2.25</text>
<line x1="1478.5" y1="1113.2" x2="1488.3" y2="1113.2" stroke="#333333" stroke-width="3.4"/>
<text class="ax" x="1469.3" y="1124.76" text-anchor="end">2.50</text>
<line x1="1478.5" y1="1039.1" x2="1488.3" y2="1039.1" stroke="#333333" stroke-width="3.4"/>
<text class="ax" x="1469.3" y="1050.66" text-anchor="end">2.75</text>
<line x1="1573.73" y1="1429.8" x2="1573.73" y2="1439.6" stroke="#333333" stroke-width="3.4"/>
<text class="ax" x="1573.73" y="1471" text-anchor="middle">Foot</text>
<line x1="1716.11" y1="1429.8" x2="1716.11" y2="1439.6" stroke="#333333" stroke-width="3.4"/>
<text class="ax" x="1716.11" y="1471" text-anchor="middle">Gill</text>
<line x1="1858.49" y1="1429.8" x2="1858.49" y2="1439.6" stroke="#333333" stroke-width="3.4"/>
<text class="ax" x="1858.49" y="1471" text-anchor="middle">Gonad</text>
<line x1="2000.87" y1="1429.8" x2="2000.87" y2="1439.6" stroke="#333333" stroke-width="3.4"/>
<text class="ax" x="2000.87" y="1471" text-anchor="middle">Mantle</text>
</g>
<text x="0" y="0" transform="translate(30.9 747.5) rotate(-90) scale(1 1.06)" text-anchor="middle" font-size="40.3" fill="#000">mg·µg DW</text>
<line x1="960.15" y1="1595.3" x2="960.15" y2="1602.7" stroke="#333333" stroke-width="3"/>
<line x1="960.15" y1="1628" x2="960.15" y2="1635.6" stroke="#333333" stroke-width="3"/>
<rect x="940.8" y="1602.7" width="38.7" height="25.3" fill="#4B78A8" stroke="#333333" stroke-width="3"/>
<line x1="940.8" y1="1615.0" x2="979.5" y2="1615.0" stroke="#333333" stroke-width="3"/>
<line x1="1156.85" y1="1595.3" x2="1156.85" y2="1602.7" stroke="#333333" stroke-width="3"/>
<line x1="1156.85" y1="1628" x2="1156.85" y2="1635.6" stroke="#333333" stroke-width="3"/>
<rect x="1137.5" y="1602.7" width="38.7" height="25.3" fill="#E45758" stroke="#333333" stroke-width="3"/>
<line x1="1137.5" y1="1615.0" x2="1176.2" y2="1615.0" stroke="#333333" stroke-width="3"/>
<text x="1006" y="1627.2" font-size="32.3" fill="#000">Control</text>
<text x="1202" y="1627.2" font-size="32.3" fill="#000">LpH</text>
</svg>
</body></html>
